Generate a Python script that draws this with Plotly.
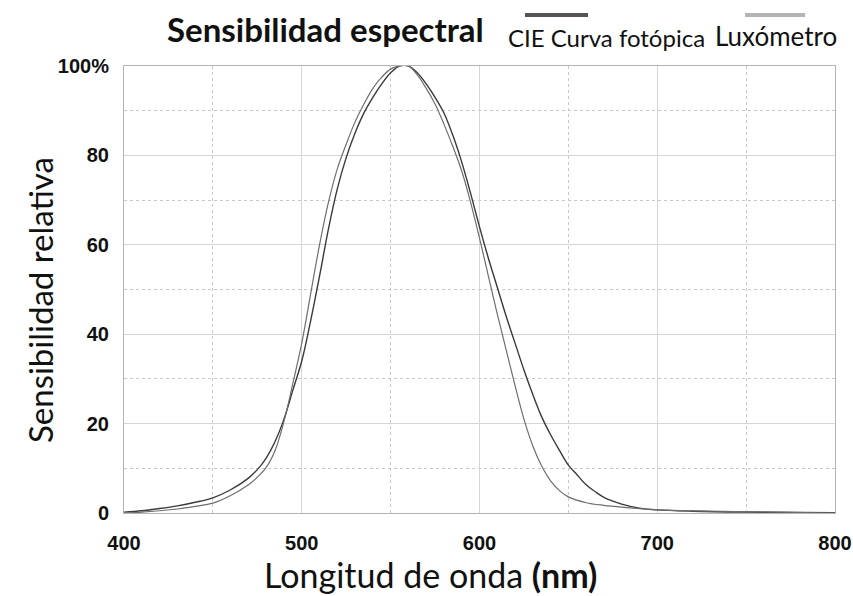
import plotly.graph_objects as go

# CIE photopic curve (dark line)
wavelength_cie = [400, 410, 420, 430, 440, 450, 460, 470, 475, 480, 485, 490, 495, 500, 505, 510, 515, 520, 525,
                  530, 535, 540, 545, 550, 555, 560, 565, 570, 575, 580, 585, 590, 595, 600, 605, 610, 615,
                  620, 625, 630, 635, 640, 645, 650, 655, 660, 665, 670, 680, 690, 700, 720, 750, 800]
cie_values = [0.2, 0.5, 1.0, 1.6, 2.4, 3.4, 5.2, 7.8, 9.7, 12.3, 16, 21, 27.5, 34, 43, 53, 63.5, 72.5, 79.5,
              85, 89.5, 93, 96, 98.5, 100, 100, 98.5, 96, 93, 89.5, 84.5, 78.5, 71.5, 64, 57, 50.5, 44,
              38, 32, 26.5, 21.5, 17.5, 14, 10.7, 8.5, 6.3, 4.8, 3.5, 2.0, 1.1, 0.7, 0.4, 0.2, 0.05]

# Luxometer response (lighter line)
wavelength_lux = [400, 410, 420, 430, 440, 450, 460, 470, 475, 480, 485, 490, 495, 500, 505, 510, 515, 520, 525,
                  530, 535, 540, 545, 550, 555, 560, 565, 570, 575, 580, 585, 590, 595, 600, 605, 610, 615,
                  620, 625, 630, 635, 640, 645, 650, 660, 670, 680, 690, 700, 750, 800]
lux_values = [0.0, 0.2, 0.5, 0.9, 1.5, 2.2, 3.9, 6.3, 8.0, 10.2, 14, 20.5, 29, 38, 49, 60, 69.5, 77, 82.5,
              87.5, 91.5, 95, 97.5, 99.3, 100, 100, 98, 95, 91.5, 87, 82, 76.5, 69.5, 61.5, 53, 44.5, 36.5,
              28.5, 21, 15, 10.5, 7.2, 5.0, 3.6, 2.3, 1.7, 1.3, 1.0, 0.7, 0.3, 0.0]

x_ticks = [400, 500, 600, 700, 800]
y_ticks = [0, 20, 40, 60, 80, 100]
y_tick_text = ["0", "20", "40", "60", "80", "100%"]

fig = go.Figure()
fig.add_trace(go.Scatter(x=wavelength_cie, y=cie_values, mode="lines", name="CIE Curva fotópica",
                         line=dict(color="#3a3a3a", width=1.4, shape="spline", smoothing=1.0)))
fig.add_trace(go.Scatter(x=wavelength_lux, y=lux_values, mode="lines", name="Luxómetro",
                         line=dict(color="#6e6e6e", width=1.2, shape="spline", smoothing=1.0)))

tickfont = dict(family="Liberation Sans, Arial", size=20, color="#111111", weight="bold")
calibri_like = "Lato, Open Sans, Noto Sans"

L, R, T, B = 124, 835, 66, 513   # plot area in pixels
W, H = R - L, B - T


def px(x):
    return (x - L) / W


def py(y):
    return (B - y) / H


fig.update_layout(
    width=853, height=596,
    margin=dict(l=L, r=853 - R, t=T, b=596 - B),
    paper_bgcolor="white", plot_bgcolor="white",
    showlegend=False,
    xaxis=dict(range=[400, 800], tickvals=x_ticks, ticktext=[str(v) for v in x_ticks],
               tickfont=tickfont, showline=True, linecolor="#b4b4b4", linewidth=1, mirror=True,
               showgrid=True, gridcolor="#d6d6d6", gridwidth=1, zeroline=False,
               ticklabelstandoff=12, automargin=False, ticklabeloverflow="allow",
               minor=dict(dtick=50, tick0=400, showgrid=True, gridcolor="#c8c8c8", griddash="dot", gridwidth=1)),
    yaxis=dict(range=[0, 100], tickvals=y_ticks, ticktext=y_tick_text,
               tickfont=tickfont, showline=True, linecolor="#b4b4b4", linewidth=1, mirror=True,
               showgrid=True, gridcolor="#d6d6d6", gridwidth=1, zeroline=False,
               ticklabelstandoff=10, automargin=False, ticklabeloverflow="allow",
               minor=dict(dtick=10, tick0=0, showgrid=True, gridcolor="#c8c8c8", griddash="dot", gridwidth=1)),
)

# Axis titles
fig.add_annotation(text="Longitud de onda <b>(nm)</b>", xref="paper", yref="paper",
                   x=px(430), y=py(574), xanchor="center", yanchor="middle", showarrow=False,
                   font=dict(family=calibri_like, size=34, color="#111111"))
fig.add_annotation(text="Sensibilidad relativa", xref="paper", yref="paper", textangle=-90,
                   x=px(40), y=py(300), xanchor="center", yanchor="middle", showarrow=False,
                   font=dict(family=calibri_like, size=33, color="#111111"))

# Title and legend (legend lines drawn above their labels, as in the reference)
fig.add_annotation(text="<b>Sensibilidad espectral</b>", xref="paper", yref="paper",
                   x=px(325), y=py(29), xanchor="center", yanchor="middle",
                   showarrow=False, font=dict(family=calibri_like, size=33, color="#111111"))
fig.add_annotation(text="CIE Curva fotópica", xref="paper", yref="paper",
                   x=px(606), y=py(38), xanchor="center", yanchor="middle",
                   showarrow=False, font=dict(family=calibri_like, size=24, color="#111111"))
fig.add_annotation(text="Luxómetro", xref="paper", yref="paper",
                   x=px(776), y=py(36), xanchor="center", yanchor="middle",
                   showarrow=False, font=dict(family=calibri_like, size=26, color="#111111"))
fig.add_shape(type="line", xref="paper", yref="paper",
              x0=px(525), x1=px(588), y0=py(15), y1=py(15),
              line=dict(color="#555555", width=4))
fig.add_shape(type="line", xref="paper", yref="paper",
              x0=px(745), x1=px(805), y0=py(15), y1=py(15),
              line=dict(color="#b4b4b4", width=4))

fig.write_html("out.html", config={"displayModeBar": False},
               post_script="document.body.style.margin='0px';")
